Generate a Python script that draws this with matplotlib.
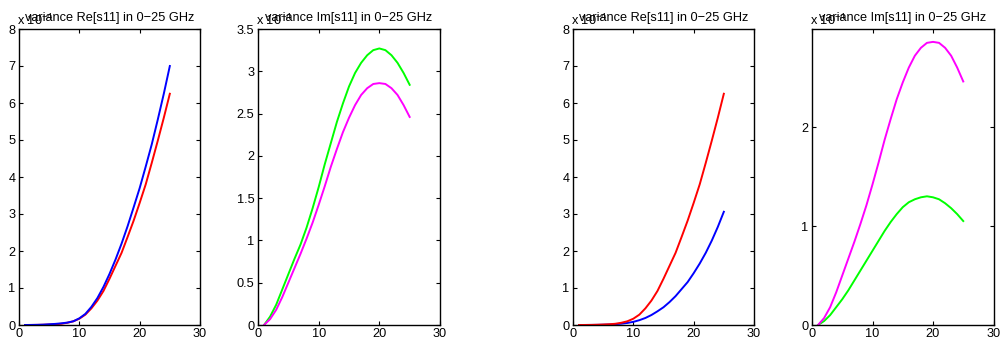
import matplotlib
matplotlib.use("Agg")
import matplotlib.pyplot as plt

plt.rcParams['font.family'] = ['Liberation Sans', 'DejaVu Sans']
plt.rcParams['mathtext.fontset'] = 'custom'
plt.rcParams['mathtext.rm'] = 'Liberation Sans'
plt.rcParams['mathtext.it'] = 'Liberation Sans'
plt.rcParams['axes.unicode_minus'] = True

# ---------------- data (values x 1e-4) ----------------
freq = list(range(1, 26))

re_red = [0.0, 0.001, 0.003, 0.007, 0.013, 0.02, 0.033, 0.06, 0.10, 0.17, 0.28,
          0.45, 0.66, 0.92, 1.25, 1.60, 1.95, 2.38, 2.82, 3.30, 3.80, 4.38,
          4.98, 5.60, 6.25]
re_blue_a = [0.0, 0.002, 0.005, 0.01, 0.02, 0.03, 0.045, 0.065, 0.10, 0.18, 0.30,
             0.49, 0.73, 1.03, 1.38, 1.77, 2.20, 2.67, 3.18, 3.70, 4.28, 4.88,
             5.55, 6.25, 7.00]
re_blue_b = [0.0, 0.001, 0.002, 0.004, 0.008, 0.014, 0.022, 0.035, 0.055, 0.085,
             0.13, 0.19, 0.27, 0.37, 0.48, 0.62, 0.78, 0.97, 1.16, 1.40, 1.66,
             1.95, 2.28, 2.65, 3.06]

im_magenta = [0.0, 0.07, 0.18, 0.33, 0.50, 0.67, 0.84, 1.02, 1.21, 1.42, 1.64,
              1.87, 2.08, 2.28, 2.45, 2.60, 2.72, 2.80, 2.85, 2.86, 2.85, 2.80,
              2.72, 2.60, 2.46]
im_green_a = [0.0, 0.10, 0.24, 0.42, 0.60, 0.78, 0.95, 1.15, 1.38, 1.63, 1.90,
              2.15, 2.40, 2.62, 2.82, 2.98, 3.10, 3.19, 3.25, 3.27, 3.25, 3.19,
              3.10, 2.98, 2.84]
im_green_b = [0.0, 0.04, 0.10, 0.18, 0.26, 0.35, 0.45, 0.55, 0.65, 0.75, 0.85,
              0.95, 1.04, 1.12, 1.19, 1.24, 1.27, 1.29, 1.30, 1.29, 1.27, 1.23,
              1.18, 1.12, 1.05]

titles = ["variance Re[s11] in 0\u221225 GHz", "variance Im[s11] in 0\u221225 GHz",
          "variance Re[s11] in 0\u221225 GHz", "variance Im[s11] in 0\u221225 GHz"]
xticks = [0, 10, 20, 30]
yticks_re = [0, 1, 2, 3, 4, 5, 6, 7, 8]
yticks_im_a = [0, 0.5, 1, 1.5, 2, 2.5, 3, 3.5]
ytick_labels_im_a = ["0", "0.5", "1", "1.5", "2", "2.5", "3", "3.5"]
yticks_im_b = [0, 1, 2]

# ---------------- figure ----------------
W, H = 1000, 343
fig = plt.figure(figsize=(W / 100, H / 100), dpi=100)

def rect(l, r, t=29, b=325):
    return [l / W, (H - b) / H, (r - l) / W, (b - t) / H]

positions = [rect(19, 200), rect(258, 440), rect(573, 754), rect(812, 993.5)]
fs = 9.2

panels = [
    dict(series=[(re_red, 'red'), (re_blue_a, 'blue')], ylim=(0, 8), yt=yticks_re, ytl=None),
    dict(series=[(im_green_a, '#00ff00'), (im_magenta, 'magenta')], ylim=(0, 3.5), yt=yticks_im_a, ytl=ytick_labels_im_a),
    dict(series=[(re_blue_b, 'blue'), (re_red, 'red')], ylim=(0, 8), yt=yticks_re, ytl=None),
    dict(series=[(im_green_b, '#00ff00'), (im_magenta, 'magenta')], ylim=(0, 2.99), yt=yticks_im_b, ytl=None),
]

for i, (pos, p) in enumerate(zip(positions, panels)):
    ax = fig.add_axes(pos)
    for ys, c in p['series']:
        ax.plot(freq, ys, color=c, lw=1.4)
    ax.set_xlim(0, 30)
    ax.set_ylim(*p['ylim'])
    ax.set_xticks(xticks)
    ax.set_yticks(p['yt'])
    if p['ytl'] is not None:
        ax.set_yticklabels(p['ytl'])
    ax.tick_params(direction='in', length=3, width=0.8, labelsize=fs,
                   top=True, right=True, pad=2.5)
    for s in ax.spines.values():
        s.set_linewidth(1.0)
    ax.set_title(titles[i], fontsize=fs, pad=6)
    ax.text(-0.01, 1.005, r"x 10$^{-4}$", transform=ax.transAxes,
            fontsize=fs, ha='left', va='bottom')

fig.savefig("out.png", dpi=100)
